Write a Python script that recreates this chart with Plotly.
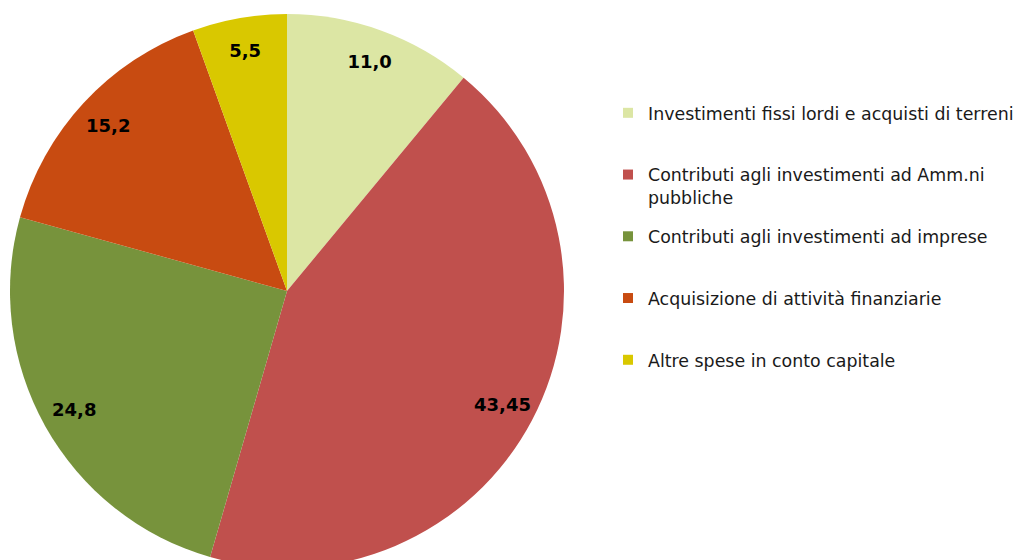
import plotly.graph_objects as go

# spesa in conto capitale - composizione percentuale
categorie = [
    "Investimenti fissi lordi e acquisti di terreni",
    "Contributi agli investimenti ad Amm.ni<br>pubbliche",
    "Contributi agli investimenti ad imprese",
    "Acquisizione di attività finanziarie",
    "Altre spese in conto capitale",
]
valori = [11.0, 43.45, 24.8, 15.2, 5.5]
etichette = [str(v).replace(".", ",") for v in valori]
colori = ["#DCE6A4", "#C0504D", "#77933C", "#C84B11", "#D9C800"]

W, H = 1027, 560
top = 6
area_h = H - top
cx = 279
font_fam = "DejaVu Sans, Verdana, sans-serif"

fig = go.Figure()

# torta principale (senza testo)
fig.add_trace(go.Pie(
    labels=categorie,
    values=valori,
    sort=False,
    direction="clockwise",
    rotation=0,
    marker=dict(colors=colori, line=dict(width=0)),
    textinfo="none",
    hoverinfo="skip",
    showlegend=False,
    domain=dict(x=[0, 2 * cx / W], y=[0, 1]),
))

# anello trasparente per posizionare le etichette verso il bordo
fig.add_trace(go.Pie(
    labels=categorie,
    values=valori,
    sort=False,
    direction="clockwise",
    rotation=0,
    hole=0.76,
    marker=dict(colors=["rgba(0,0,0,0)"] * len(valori), line=dict(width=0)),
    text=etichette,
    textinfo="text",
    textposition="inside",
    insidetextorientation="horizontal",
    textfont=dict(family=font_fam, size=18, color="black", weight="bold"),
    hoverinfo="skip",
    showlegend=False,
    domain=dict(x=[0, 2 * cx / W], y=[0, 1]),
))

# voci di legenda (una per categoria, per poter regolare la spaziatura)
for nome, col in zip(categorie, colori):
    if "<br>" not in nome:
        nome = nome + "<br> "
    fig.add_trace(go.Scatter(
        x=[None], y=[None],
        mode="markers",
        marker=dict(symbol="square", size=10, color=col),
        name=nome,
        legendgroup=nome,
        hoverinfo="skip",
    ))

fig.update_layout(
    width=W,
    height=H,
    margin=dict(l=0, r=0, t=top, b=0),
    paper_bgcolor="white",
    plot_bgcolor="white",
    xaxis=dict(visible=False),
    yaxis=dict(visible=False),
    hovermode=False,
    legend=dict(
        x=600 / W,
        xanchor="left",
        y=1 - (87 - top) / area_h,
        yanchor="top",
        valign="top",
        tracegroupgap=13.5,
        font=dict(family=font_fam, size=17.4, color="#1a1a1a"),
        bgcolor="rgba(0,0,0,0)",
    ),
)

fig.write_html("out.html")
